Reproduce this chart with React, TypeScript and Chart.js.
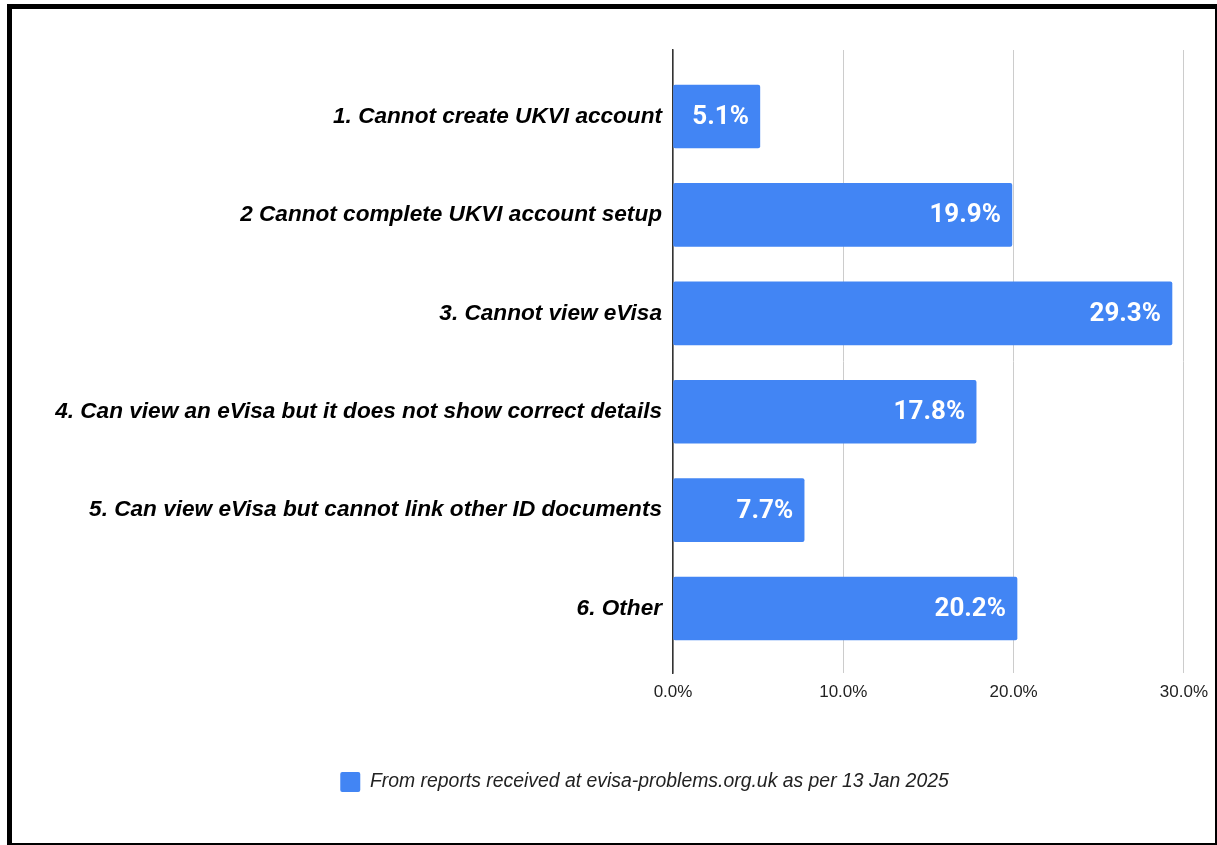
import React, { useEffect, useRef } from "react";
import { Chart, registerables } from "chart.js";

Chart.register(...registerables);

const categories = [
  "1. Cannot create UKVI account",
  "2 Cannot complete UKVI account setup",
  "3. Cannot view eVisa",
  "4. Can view an eVisa but it does not show correct details",
  "5. Can view eVisa but cannot link other ID documents",
  "6. Other",
];
const values = [5.1, 19.9, 29.3, 17.8, 7.7, 20.2];
const seriesLabel = "From reports received at evisa-problems.org.uk as per 13 Jan 2025";
const xTicks = [0, 10, 20, 30];

const BAR_COLOR = "#4285F4";
const PAD_LEFT = 20;
const LEGEND_CENTER = 644.5;

const valueLabels = {
  id: "valueLabels",
  afterDatasetsDraw(chart: any) {
    const ctx = chart.ctx;
    const meta = chart.getDatasetMeta(0);
    ctx.save();
    ctx.font = "bold 26px Roboto";
    ctx.fillStyle = "#ffffff";
    ctx.textAlign = "right";
    ctx.textBaseline = "middle";
    meta.data.forEach((bar: any, i: number) => {
      ctx.fillText(values[i].toFixed(1) + "%", bar.x - 11, bar.y + 1);
    });
    ctx.restore();
  },
};

const shiftLegend = {
  id: "shiftLegend",
  afterLayout(chart: any) {
    const lg = chart.legend;
    if (!lg) return;
    const shift = LEGEND_CENTER - (lg.left + lg.right) / 2;
    lg.left += shift;
    lg.right += shift;
    if (lg.legendHitBoxes) {
      lg.legendHitBoxes.forEach((h: any) => (h.left += shift));
    }
  },
};

export default function App() {
  const ref = useRef<HTMLCanvasElement | null>(null);
  useEffect(() => {
    if (!ref.current) return;
    const chart = new Chart(ref.current, {
      type: "bar",
      data: {
        datasets: [
          {
            label: seriesLabel,
            data: values.map((v, i) => ({ x: v, y: i })),
            backgroundColor: BAR_COLOR,
            borderWidth: 0,
            borderRadius: 2,
            borderSkipped: false,
            barThickness: 63,
          },
        ],
      },
      options: {
        indexAxis: "y",
        responsive: false,
        animation: false,
        layout: { padding: { top: 50, left: PAD_LEFT, right: 31, bottom: 43 } },
        plugins: {
          tooltip: { enabled: false },
          legend: {
            position: "bottom",
            labels: {
              boxWidth: 20,
              boxHeight: 20,
              padding: 10,
              useBorderRadius: true,
              borderRadius: 2,
              color: "#222222",
              font: { family: "'Liberation Sans', Arial", size: 19.4, style: "italic" },
            },
          },
        },
        scales: {
          x: {
            type: "linear",
            min: 0,
            max: 30,
            afterBuildTicks: (scale: any) => {
              scale.ticks = xTicks.map((v) => ({ value: v }));
            },
            afterFit: (scale: any) => {
              scale.height = 89;
            },
            ticks: {
              padding: 9,
              color: "#222222",
              font: { family: "'Liberation Sans', Arial", size: 17 },
              callback: (v: any) => Number(v).toFixed(1) + "%",
            },
            grid: { color: "#cccccc", lineWidth: 1, drawTicks: false },
            border: { display: false },
          },
          y: {
            type: "linear",
            reverse: true,
            offset: false,
            min: -0.676,
            max: 5.655,
            afterBuildTicks: (scale: any) => {
              scale.ticks = categories.map((_, i) => ({ value: i }));
            },
            afterFit: (scale: any) => {
              scale.width = 673 - PAD_LEFT;
            },
            ticks: {
              autoSkip: false,
              padding: 11,
              color: "#000000",
              font: { family: "'Liberation Sans', Arial", size: 22.6, style: "italic", weight: "bold" },
              callback: (v: any) => categories[v] ?? "",
            },
            grid: { display: false, drawTicks: false, offset: false },
            border: { display: true, color: "#333333", width: 1.5 },
          },
        },
      },
      plugins: [valueLabels, shiftLegend],
    } as any);
    return () => chart.destroy();
  }, []);

  return (
    <div style={{ position: "fixed", left: 0, top: 0, width: 1217, height: 845, background: "#ffffff" }}>
      <canvas ref={ref} width={1217} height={845} style={{ position: "absolute", left: 0, top: 0 }} />
      <div
        style={{
          position: "absolute",
          left: 7,
          top: 4,
          width: 1210,
          height: 841,
          boxSizing: "border-box",
          borderLeft: "5px solid #000",
          borderTop: "5px solid #000",
          borderRight: "2px solid #000",
          borderBottom: "2px solid #000",
          pointerEvents: "none",
        }}
      />
    </div>
  );
}
